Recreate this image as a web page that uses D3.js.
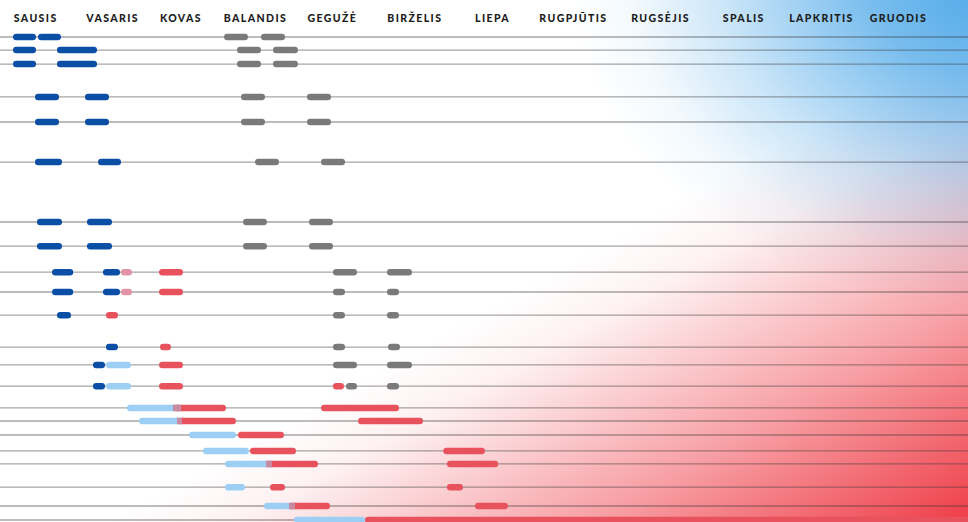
<!DOCTYPE html>
<html>
<head>
<meta charset="utf-8">
<script src="https://cdn.jsdelivr.net/npm/d3@7"></script>
<style>
  html, body { margin: 0; padding: 0; background: #ffffff; }
  svg { display: block; }
</style>
</head>
<body>
<svg id="chart" width="968" height="522"></svg>
<script>
// ---- data ----
const months = ["SAUSIS","VASARIS","KOVAS","BALANDIS","GEGUŽĖ","BIRŽELIS","LIEPA","RUGPJŪTIS","RUGSĖJIS","SPALIS","LAPKRITIS","GRUODIS"];
// position of each month label along the month axis (in months)
const monthTicks = [0.5, 1.48, 2.35, 3.30, 4.28, 5.33, 6.32, 7.35, 8.46, 9.52, 10.51, 11.49];
// vertical slot of every row (0..100)
const rowSlots = [0, 2.7, 5.6, 12.4, 17.6, 25.9, 38.3, 43.3, 48.7, 52.8, 57.6, 64.2, 67.9, 72.3, 76.8, 79.5, 82.4, 85.7, 88.4, 93.2, 97.1, 100];

// [row, start month, end month]
const darkBlue = [
  [0,0.22,0.513],[0,0.538,0.831],
  [1,0.22,0.513],[1,0.780,1.290],
  [2,0.22,0.513],[2,0.780,1.290],
  [3,0.50,0.806],[3,1.137,1.443],
  [4,0.50,0.806],[4,1.137,1.443],
  [5,0.50,0.844],[5,1.303,1.596],
  [6,0.525,0.844],[6,1.162,1.481],
  [7,0.525,0.844],[7,1.162,1.481],
  [8,0.717,0.987],[8,1.366,1.583],
  [9,0.717,0.987],[9,1.366,1.583],
  [10,0.780,0.959],
  [11,1.404,1.557],
  [12,1.239,1.392],
  [13,1.239,1.392]
];
const pink = [
  [8,1.596,1.736],
  [9,1.596,1.736]
];
const lightBlue = [
  [12,1.404,1.723],
  [13,1.404,1.723],
  [14,1.672,2.360],
  [15,1.825,2.373],
  [16,2.462,3.061],
  [17,2.640,3.226],
  [18,2.920,3.519],
  [19,2.920,3.175],
  [20,3.417,3.812],
  [21,3.799,4.704]
];
const red = [
  [8,2.080,2.385],
  [9,2.080,2.385],
  [10,1.404,1.557],
  [11,2.092,2.232],
  [12,2.080,2.385],
  [13,2.080,2.385],[13,4.296,4.436],
  [14,2.258,2.933],[14,4.143,5.137],
  [15,2.309,3.061],[15,4.615,5.443],
  [16,3.086,3.672],
  [17,3.239,3.825],[17,5.701,6.232],
  [18,3.443,4.105],[18,5.748,6.401],
  [19,3.494,3.685],[19,5.748,5.952],
  [20,3.736,4.258],[20,6.105,6.525],
  [21,4.704,12.5]
];
const gray = [
  [0,2.908,3.213],[0,3.379,3.685],
  [1,3.073,3.379],[1,3.532,3.850],
  [2,3.073,3.379],[2,3.532,3.850],
  [3,3.124,3.430],[3,3.965,4.271],
  [4,3.124,3.430],[4,3.965,4.271],
  [5,3.303,3.608],[5,4.143,4.449],
  [6,3.150,3.455],[6,3.990,4.296],
  [7,3.150,3.455],[7,3.990,4.296],
  [8,4.296,4.602],[8,4.984,5.303],
  [9,4.296,4.449],[9,4.984,5.137],
  [10,4.296,4.449],[10,4.984,5.137],
  [11,4.296,4.449],[11,4.997,5.150],
  [12,4.296,4.602],[12,4.984,5.303],
  [13,4.462,4.602],[13,4.984,5.137]
];

// ---- drawing ----
const W = 968, H = 522;
const svg = d3.select("#chart");
const x = d3.scaleLinear().domain([0, 12]).range([-4.25, 937.75]);
const y = d3.scaleLinear().domain([0, 100]).range([37, 520]);

const defs = svg.append("defs");
const gRed = defs.append("linearGradient").attr("id", "gRed")
  .attr("gradientUnits", "userSpaceOnUse")
  .attr("x1", 761).attr("y1", 155).attr("x2", 974).attr("y2", 535);
[[0,0],[0.15,0.07],[0.55,0.48],[1,1]].forEach(s => gRed.append("stop").attr("offset", s[0]).attr("stop-color", "#ee3540").attr("stop-opacity", s[1]));
const gBlue = defs.append("radialGradient").attr("id", "gBlue")
  .attr("cx", 1).attr("cy", 0).attr("r", 1).attr("fx", 1).attr("fy", 0);
[[0,1],[0.3,0.75],[0.65,0.28],[0.85,0.07],[1,0]].forEach(s => gBlue.append("stop").attr("offset", s[0]).attr("stop-color", "#4aa6e8").attr("stop-opacity", s[1]));

svg.append("rect").attr("x",0).attr("y",0).attr("width",W).attr("height",H).attr("fill","#ffffff");
svg.append("rect").attr("x",0).attr("y",0).attr("width",W).attr("height",H).attr("fill","url(#gRed)");
svg.append("rect").attr("x",570).attr("y",-20).attr("width",430).attr("height",330).attr("fill","url(#gBlue)");

// row lines
svg.append("g").selectAll("line").data(rowSlots).join("line")
  .attr("x1",0).attr("x2",W)
  .attr("y1",d => y(d)).attr("y2",d => y(d))
  .attr("stroke","#3a3a3a").attr("stroke-opacity",0.45).attr("stroke-width",1.3);

// month labels
svg.append("g").selectAll("text").data(months).join("text")
  .attr("x",(d,i) => x(monthTicks[i]) + 0.7)
  .attr("y",22)
  .attr("text-anchor","middle")
  .attr("font-family","Lato, 'Open Sans', sans-serif")
  .attr("font-weight",900)
  .attr("font-size",10.5)
  .attr("letter-spacing",1.4)
  .attr("fill","#1c1c1c")
  .text(d => d);

const BH = 6.5;
function drawBars(data, color) {
  svg.append("g").selectAll("rect").data(data).join("rect")
    .attr("x", d => x(d[1]))
    .attr("width", d => x(d[2]) - x(d[1]))
    .attr("y", d => y(rowSlots[d[0]]) - BH/2)
    .attr("height", BH)
    .attr("rx", BH/2)
    .attr("fill", color);
}
drawBars(gray, "#7a7a7a");
drawBars(darkBlue, "#0a4ea6");
drawBars(pink, "#e294a6");
drawBars(lightBlue, "#9dcff5");
drawBars(red, "#e8525c");

// blended zone where a light-blue bar runs into a red one
const mix = [];
lightBlue.forEach(a => red.forEach(b => {
  if (a[0] === b[0]) {
    const s = Math.max(a[1], b[1]), e = Math.min(a[2], b[2]);
    if (e > s) mix.push([a[0], s, e]);
  }
}));
svg.append("g").selectAll("rect").data(mix).join("rect")
  .attr("x", d => x(d[1]))
  .attr("width", d => x(d[2]) - x(d[1]))
  .attr("y", d => y(rowSlots[d[0]]) - BH/2)
  .attr("height", BH)
  .attr("fill", "#c88aa0");
</script>
</body>
</html>
